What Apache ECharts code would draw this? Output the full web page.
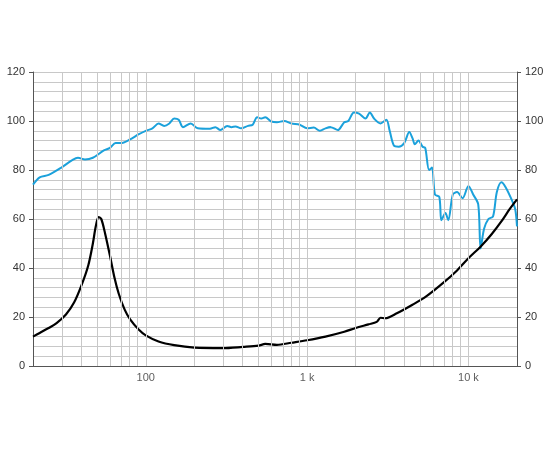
<!DOCTYPE html>
<html>
<head>
<meta charset="utf-8">
<script src="https://cdn.jsdelivr.net/npm/echarts@6/dist/echarts.min.js"></script>
<style>html,body{margin:0;padding:0;background:#fff}#chart{width:550px;height:450px}</style>
</head>
<body>
<div id="chart"></div>
<script>
  // frequency response (dB SPL)
  var splFreq = [20,22,25,30,35,38,42,47,55,60,65,70,80,90,100,110,120,130,140,150,160,170,190,210,250,270,290,320,340,360,390,430,460,490,520,550,600,650,720,800,900,1000,1100,1200,1300,1400,1550,1700,1800,1950,2100,2300,2450,2600,2850,3100,3250,3450,3700,4000,4300,4500,4650,4900,5200,5400,5700,5950,6200,6600,6800,7200,7500,8000,8500,9200,10000,10700,11500,11900,12500,13300,14200,15000,16000,17000,18500,19500,20000];
  var splVal = [74,77,78,81,84,85,84.3,85,88,89,91,91,92.5,94.5,96,97,99,98,99,101,100.5,97.5,99,97,96.8,97.5,96.3,98,97.5,97.8,97,98,98.5,101.5,101,101.5,99.8,99.5,100,99,98.5,97,97.3,96,97,97.5,96.3,99.5,100,103.5,103,101,103.5,101,99,100.5,96,90,89.5,91,95.5,93,90.5,92,89.5,89,80,81,70,69,59.5,62.5,59.5,70,71,68.5,73.5,70,66,48,56,60,61,71,75,73,68,64,57];
  // impedance
  var impFreq = [20,22,25,28,32,36,40,44,47,49,51,53,56,60,64,68,74,80,90,100,120,150,200,300,400,500,550,650,800,1000,1300,1700,2000,2400,2700,2850,3050,3600,4500,5500,7000,8500,10000,12000,14000,16000,18000,20000];
  var impVal = [12,13.5,15.5,17.5,21,26,33,41,50,57,60.8,60,54,45,36,29.5,23,19,15,12.5,10,8.5,7.5,7.3,7.8,8.3,9,8.6,9.5,10.5,12,14,15.5,17,18,19.7,19.5,21.5,25,28.5,34,39,44,49,54,59,64,68];
  var gridFreq = [30,40,50,60,70,80,90,100,200,300,400,500,600,700,800,900,1000,2000,3000,4000,5000,6000,7000,8000,9000,10000];
  var tickFreq = [100, 1000, 10000];
  var tickText = ['100', '1 k', '10 k'];

  function pairs(f, v) {
    return f.map(function(x, i) { return [Math.log10(x), v[i]]; });
  }

  var yAxisBase = {
    type: 'value', min: 0, max: 120, interval: 20,
    axisLine: {show: true, lineStyle: {color: '#555'}},
    axisTick: {show: true, length: 4, lineStyle: {color: '#555'}},
    axisLabel: {color: '#333', fontSize: 11, fontFamily: 'Liberation Sans'},
    splitLine: {show: true, lineStyle: {color: '#c8c8c8'}},
    minorTick: {show: false, splitNumber: 5},
    minorSplitLine: {show: true, lineStyle: {color: '#c8c8c8'}}
  };

  var chart = echarts.init(document.getElementById('chart'));
  chart.setOption({
    animation: false,
    grid: {left: 33, right: 33, top: 72, bottom: 84},
    xAxis: {
      type: 'value', min: Math.log10(20), max: Math.log10(20000),
      axisLine: {show: true, onZero: false, lineStyle: {color: '#555'}},
      axisTick: {show: false}, axisLabel: {show: false}, splitLine: {show: false}
    },
    yAxis: [
      yAxisBase,
      Object.assign({}, yAxisBase, {position: 'right', splitLine: {show: false}, minorSplitLine: {show: false}})
    ],
    series: [
      {
        type: 'line', data: [], silent: true,
        markLine: {
          silent: true, symbol: 'none', label: {show: false},
          lineStyle: {color: '#c8c8c8', type: 'solid', width: 1},
          data: gridFreq.map(function(f) { return {xAxis: Math.log10(f)}; })
        }
      },
      {
        type: 'scatter', symbolSize: 0, silent: true,
        data: tickFreq.map(function(f, i) { return {value: [Math.log10(f), 0], name: tickText[i]}; }),
        label: {show: true, position: 'bottom', distance: 6, formatter: '{b}', color: '#333', fontSize: 11, fontFamily: 'Liberation Sans'}
      },
      {
        type: 'line', data: pairs(splFreq, splVal), smooth: 0.3, showSymbol: false,
        lineStyle: {color: '#1ba1db', width: 2}
      },
      {
        type: 'line', data: pairs(impFreq, impVal), smooth: 0.3, showSymbol: false,
        lineStyle: {color: '#000', width: 2.2}
      }
    ]
  });
</script>
</body>
</html>
